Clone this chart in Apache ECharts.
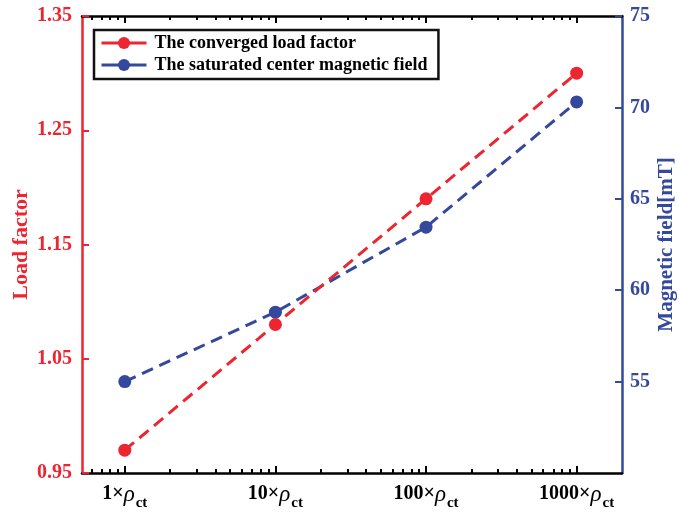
<!DOCTYPE html>
<html>
<head>
<meta charset="utf-8">
<script src="https://cdn.jsdelivr.net/npm/echarts@6/dist/echarts.min.js"></script>
<style>
  html, body { margin: 0; padding: 0; background: #fff; }
  #chart { width: 679px; height: 513px; }
</style>
</head>
<body>
<div id="chart"></div>
<script>
// Resistivity multiples of rho_ct (log x axis)
const multiples = [1, 10, 100, 1000];
// Converged load factor (left axis)
const loadFactor = [0.97, 1.08, 1.19, 1.30];
// Saturated center magnetic field in mT (right axis)
const magField = [55.0, 58.8, 63.45, 70.3];
// Tick labels
const leftTicks = [0.95, 1.05, 1.15, 1.25, 1.35];
const rightTicks = [55, 60, 65, 70, 75];
const seriesNames = ['The converged load factor', 'The saturated center magnetic field'];

const RED = '#ec2530';
const BLUE = '#34499d';
const FONT = "'Liberation Serif', 'Times New Roman', serif";

const X_MIN = 0.52, X_MAX = 2000;
const LMIN = Math.log10(X_MIN), LMAX = Math.log10(X_MAX);

// minor log ticks: 2..9 in each decade, plus 0.6..0.9 in the first partial decade
const minorTicks = [];
for (let d = 0.1; d <= 1000; d *= 10) {
  for (let k = 2; k <= 9; k++) {
    const v = +(k * d).toPrecision(6);
    if (v > X_MIN && v < X_MAX) minorTicks.push(v);
  }
}

// Frame/tick axes work in log10 space so the custom tick positions line up
// exactly with the log data axis (same extent, same pixel span).
function tickAxis(position, values, len, showLine) {
  return {
    type: 'value', min: LMIN, max: LMAX, position: position,
    splitLine: { show: false },
    axisLine: { show: showLine, onZero: false, lineStyle: { color: '#000', width: 2.5 } },
    axisTick: { show: true, inside: true, length: len,
                customValues: values.map(v => Math.log10(v)),
                lineStyle: { color: '#000', width: 2 } },
    axisLabel: { show: false }
  };
}

const chart = echarts.init(document.getElementById('chart'), null, { renderer: 'canvas' });

const option = {
  animation: false,
  backgroundColor: '#fff',
  grid: { left: 82, right: 57, top: 16, bottom: 40, containLabel: false, outerBoundsMode: 'none' },
  legend: {
    orient: 'vertical', left: 94, top: 30,
    data: seriesNames,
    itemWidth: 45, itemHeight: 15, itemGap: 4,
    padding: [4, 11, 5, 6],
    borderColor: '#111', borderWidth: 2.5, backgroundColor: '#fff',
    lineStyle: { type: 'solid', width: 3 },
    textStyle: { fontFamily: FONT, fontWeight: 'bold', fontSize: 18, color: '#000', padding: [0, 0, 0, 3] }
  },
  xAxis: [
    // data axis with the tick labels
    {
      type: 'log', logBase: 10, min: X_MIN, max: X_MAX, position: 'bottom',
      splitLine: { show: false },
      axisLine: { show: false, onZero: false },
      axisTick: { show: false },
      axisLabel: {
        show: true, customValues: multiples, margin: 10,
        formatter: v => '{n|' + Math.round(v) + '×}{r|ρ}{s|ct}',
        rich: {
          n: { fontFamily: FONT, fontWeight: 'bold', fontSize: 20, color: '#000', verticalAlign: 'bottom', padding: [0, 0, 7, 0] },
          r: { fontFamily: FONT, fontStyle: 'italic', fontSize: 23, color: '#000', verticalAlign: 'bottom', padding: [0, 1, 5, 0] },
          s: { fontFamily: FONT, fontWeight: 'bold', fontSize: 15, color: '#000', verticalAlign: 'bottom' }
        }
      }
    },
    tickAxis('bottom', multiples, 7, true),
    tickAxis('bottom', minorTicks, 4, false),
    tickAxis('top', multiples, 7, true),
    tickAxis('top', minorTicks, 4, false)
  ],
  yAxis: [
    {
      type: 'value', position: 'left', min: 0.95, max: 1.35,
      name: 'Load factor', nameLocation: 'middle', nameGap: 50, nameMoveOverlap: false,
      nameTextStyle: { fontFamily: FONT, fontWeight: 'bold', fontSize: 22, color: RED },
      axisLine: { show: true, onZero: false, lineStyle: { color: RED, width: 2.5 } },
      axisTick: { show: true, inside: true, length: 7, customValues: leftTicks,
                  lineStyle: { color: RED, width: 2 } },
      axisLabel: { customValues: leftTicks, margin: 10, formatter: v => v.toFixed(2),
                   fontFamily: FONT, fontWeight: 'bold', fontSize: 20, color: RED },
      splitLine: { show: false }
    },
    {
      type: 'value', position: 'right', min: 50, max: 75,
      name: 'Magnetic field[mT]', nameLocation: 'middle', nameGap: 34, nameMoveOverlap: false,
      nameTextStyle: { fontFamily: FONT, fontWeight: 'bold', fontSize: 21, color: BLUE },
      axisLine: { show: true, onZero: false, lineStyle: { color: BLUE, width: 2.5 } },
      axisTick: { show: true, inside: true, length: 7, customValues: rightTicks,
                  lineStyle: { color: BLUE, width: 2 } },
      axisLabel: { customValues: rightTicks, margin: 8, formatter: v => String(v),
                   fontFamily: FONT, fontWeight: 'bold', fontSize: 20, color: BLUE },
      splitLine: { show: false }
    }
  ],
  series: [
    {
      name: seriesNames[1], type: 'line', xAxisIndex: 0, yAxisIndex: 1,
      data: multiples.map((m, i) => [m, magField[i]]),
      symbol: 'circle', symbolSize: 13,
      lineStyle: { color: BLUE, width: 3, type: [12, 7] },
      itemStyle: { color: BLUE }, z: 3
    },
    {
      name: seriesNames[0], type: 'line', xAxisIndex: 0, yAxisIndex: 0,
      data: multiples.map((m, i) => [m, loadFactor[i]]),
      symbol: 'circle', symbolSize: 13,
      lineStyle: { color: RED, width: 3, type: [12, 7] },
      itemStyle: { color: RED }, z: 4
    }
  ]
};

chart.setOption(option);
</script>
</body>
</html>
